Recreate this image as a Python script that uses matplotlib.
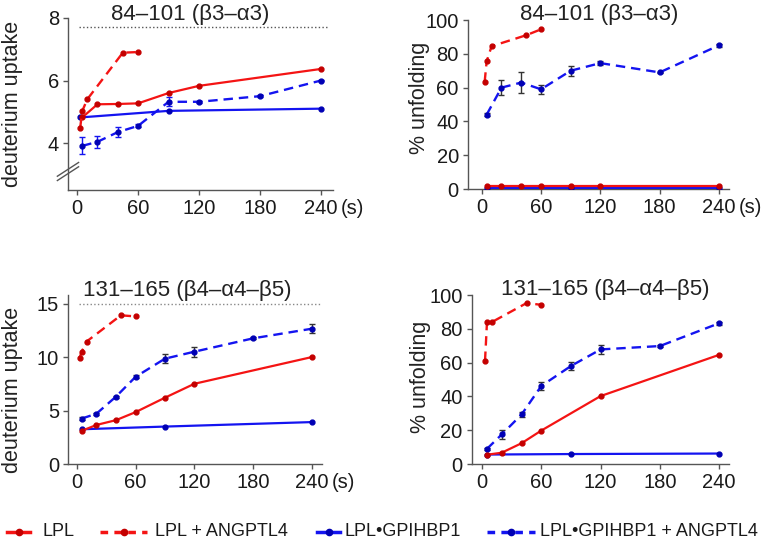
import matplotlib.pyplot as plt
from matplotlib.lines import Line2D

plt.rcParams.update({'font.family': ['Liberation Sans', 'DejaVu Sans'], 'font.size': 14})

RED = '#f41414'
RED_M = '#c40000'
BLUE = '#1414f0'
BLUE_M = '#0000b4'

# --- data: 84-101 (b3-a3), deuterium uptake
tl_lpl_t = [5, 20, 40, 60, 90, 120, 240]
tl_lpl_v = [4.82, 5.24, 5.25, 5.27, 5.6, 5.83, 6.37]
tl_lpla_t = [3, 5, 10, 45, 60]
tl_lpla_v = [4.48, 5.02, 5.40, 6.89, 6.91]
tl_gp_t = [3, 90, 240]
tl_gp_v = [4.82, 5.03, 5.1]
tl_gpa_t = [5, 20, 40, 60, 90, 120, 180, 240]
tl_gpa_v = [3.91, 4.04, 4.35, 4.55, 5.32, 5.32, 5.5, 6.0]
tl_gpa_e = [0.27, 0.2, 0.15, 0.05, 0.15, 0.04, 0.04, 0.03]

# --- 84-101 (b3-a3), % unfolding
tr_lpl_t = [5, 20, 40, 60, 90, 120, 240]
tr_lpl_v = [2.0, 2.0, 2.0, 2.0, 2.0, 2.0, 2.0]
tr_lpla_t = [3, 5, 10, 45, 60]
tr_lpla_v = [63.5, 75.5, 84.5, 91.0, 94.5]
tr_gp_t = [5, 90, 240]
tr_gp_v = [0.8, 0.8, 0.8]
tr_gpa_t = [5, 20, 40, 60, 90, 120, 180, 240]
tr_gpa_v = [44, 60, 63, 59, 70, 74.5, 69, 85]
tr_gpa_e = [1, 4.5, 6, 2.5, 3, 1, 0.5, 0.8]

# --- 131-165 (b4-a4-b5), deuterium uptake
bl_lpl_t = [5, 20, 40, 60, 90, 120, 240]
bl_lpl_v = [3.1, 3.65, 4.1, 4.85, 6.2, 7.5, 10.0]
bl_lpla_t = [3, 5, 10, 45, 60]
bl_lpla_v = [9.95, 10.5, 11.45, 13.9, 13.8]
bl_gp_t = [5, 90, 240]
bl_gp_v = [3.25, 3.5, 3.92]
bl_gpa_t = [5, 20, 40, 60, 90, 120, 180, 240]
bl_gpa_v = [4.25, 4.7, 6.3, 8.15, 9.85, 10.5, 11.75, 12.65]
bl_gpa_e = [0.1, 0.1, 0.1, 0.15, 0.45, 0.45, 0.1, 0.4]

# --- 131-165 (b4-a4-b5), % unfolding
br_lpl_t = [5, 20, 40, 60, 120, 240]
br_lpl_v = [5.5, 6.7, 12.3, 19.8, 40.2, 64.6]
br_lpla_t = [3, 5, 10, 45, 60]
br_lpla_v = [61, 84, 84, 95.2, 94.2]
br_gp_t = [5, 90, 240]
br_gp_v = [5.6, 5.9, 6.2]
br_gpa_t = [5, 20, 40, 60, 90, 120, 180, 240]
br_gpa_v = [9, 17.5, 29.3, 46.2, 58, 67.8, 69.8, 83.3]
br_gpa_e = [0.5, 2.5, 1.5, 2.5, 2.5, 2.5, 0.5, 0.8]

titles = ['84–101 (β3–α3)', '84–101 (β3–α3)', '131–165 (β4–α4–β5)', '131–165 (β4–α4–β5)']
max_uptake = [7.7, 15.0]
xticks = [0, 60, 120, 180, 240]

fig = plt.figure(figsize=(7.62, 5.41), dpi=100)
ax_tl = fig.add_axes([0.0892, 0.6488, 0.348, 0.318])
ax_tr = fig.add_axes([0.614, 0.6506, 0.3425, 0.3124])
ax_bl = fig.add_axes([0.0892, 0.1423, 0.333, 0.3124])
ax_br = fig.add_axes([0.619, 0.1423, 0.3377, 0.3124])

DASH = (4, 2.5)


def draw(ax, lpl, lpla, gp, gpa, err_color):
    ax.errorbar(gpa[0], gpa[1], yerr=gpa[2], color=BLUE, ecolor=err_color, elinewidth=1,
                capsize=2.5, capthick=1, lw=1.7, dashes=DASH, marker='o', ms=3.5,
                mfc=BLUE_M, mec=BLUE_M, zorder=3)
    ax.plot(gp[0], gp[1], color=BLUE, lw=1.6, marker='o', ms=3.5, mfc=BLUE_M, mec=BLUE_M, zorder=3)
    ax.plot(lpl[0], lpl[1], color=RED, lw=1.6, marker='o', ms=3.5, mfc=RED_M, mec=RED_M, zorder=4)
    ax.plot(lpla[0], lpla[1], color=RED, lw=1.7, dashes=DASH, marker='o', ms=3.5,
            mfc=RED_M, mec=RED_M, zorder=4)


draw(ax_tl, (tl_lpl_t, tl_lpl_v), (tl_lpla_t, tl_lpla_v), (tl_gp_t, tl_gp_v),
     (tl_gpa_t, tl_gpa_v, tl_gpa_e), BLUE)
draw(ax_tr, (tr_lpl_t, tr_lpl_v), (tr_lpla_t, tr_lpla_v), (tr_gp_t, tr_gp_v),
     (tr_gpa_t, tr_gpa_v, tr_gpa_e), '#333333')
draw(ax_bl, (bl_lpl_t, bl_lpl_v), (bl_lpla_t, bl_lpla_v), (bl_gp_t, bl_gp_v),
     (bl_gpa_t, bl_gpa_v, bl_gpa_e), '#333333')
draw(ax_br, (br_lpl_t, br_lpl_v), (br_lpla_t, br_lpla_v), (br_gp_t, br_gp_v),
     (br_gpa_t, br_gpa_v, br_gpa_e), '#333333')

# max deuteration lines
ax_tl.hlines(max_uptake[0], 2, 246, colors='#555555', linestyles=':', lw=1)
ax_bl.hlines(max_uptake[1], 2, 248, colors='#888888', linestyles=':', lw=1)

# axis limits and ticks
ax_tl.set_xlim(-9, 252)
ax_tl.set_ylim(2.5, 8)
ax_tl.set_yticks([4, 6, 8])
ax_tr.set_xlim(-14, 250)
ax_tr.set_ylim(0, 100)
ax_tr.set_yticks([0, 20, 40, 60, 80, 100])
ax_bl.set_xlim(-9, 250)
ax_bl.set_ylim(0, 15.8)
ax_bl.set_yticks([0, 5, 10, 15])
ax_br.set_xlim(-10.5, 250)
ax_br.set_ylim(0, 100)
ax_br.set_yticks([0, 20, 40, 60, 80, 100])

for ax in (ax_tl, ax_tr, ax_bl, ax_br):
    ax.set_xticks(xticks)
    for s in ('top', 'right'):
        ax.spines[s].set_visible(False)
    for s in ('left', 'bottom'):
        ax.spines[s].set_color('#555555')
        ax.spines[s].set_linewidth(1)
    ax.tick_params(direction='out', length=3.5, width=1, color='#555555', labelsize=14.5,
                   pad=3, labelcolor='#1a1a1a')

# y labels (label coords set the right edge of the rotated text)
ax_tl.set_ylabel('deuterium uptake', fontsize=15.5, color='#222222')
ax_tl.yaxis.set_label_coords(-0.17, 0.5)
ax_bl.set_ylabel('deuterium uptake', fontsize=15.5, color='#222222')
ax_bl.yaxis.set_label_coords(-0.178, 0.44)
ax_tr.set_ylabel('% unfolding', fontsize=15.5, color='#222222')
ax_tr.yaxis.set_label_coords(-0.146, 0.54)
ax_br.set_ylabel('% unfolding', fontsize=15.5, color='#222222')
ax_br.yaxis.set_label_coords(-0.158, 0.515)

# titles
ax_tl.text(0.46, 0.99, titles[0], transform=ax_tl.transAxes, ha='center', va='baseline', fontsize=16, color='#222222')
ax_tr.text(0.505, 1.0, titles[1], transform=ax_tr.transAxes, ha='center', va='baseline', fontsize=16, color='#222222')
ax_bl.text(0.47, 0.996, titles[2], transform=ax_bl.transAxes, ha='center', va='baseline', fontsize=16, color='#222222')
ax_br.text(0.518, 1.0, titles[3], transform=ax_br.transAxes, ha='center', va='baseline', fontsize=16, color='#222222')

# "(s)" unit label next to the last x tick label
for ax in (ax_tl, ax_tr, ax_bl):
    ax.annotate('(s)', xy=(xticks[-1], 0), xycoords=('data', 'axes fraction'), xytext=(14, -6.5),
                textcoords='offset points', ha='left', va='top', fontsize=14.5, color='#1a1a1a')

# axis break mark on top-left panel
for dy in (-0.025, 0.0):
    ax_tl.plot([-0.04, 0.04], [0.08 + dy, 0.16 + dy], transform=ax_tl.transAxes,
               color='#555555', lw=1, clip_on=False)

# legend drawn manually in figure coordinates
W, H = 762.0, 541.0
ly = 1 - 532 / H
legend_items = [
    (7, 30, 42, RED, RED_M, '-', 'LPL'),
    (100, 147, 155, RED, RED_M, '--', 'LPL + ANGPTL4'),
    (317, 340, 345, BLUE, BLUE_M, '-', 'LPL•GPIHBP1'),
    (487, 535, 540, BLUE, BLUE_M, '--', 'LPL•GPIHBP1 + ANGPTL4'),
]
for x0, x1, xt, c, mc, ls, lab in legend_items:
    line = Line2D([x0 / W, x1 / W], [ly, ly], transform=fig.transFigure, color=c, lw=2.5)
    if ls == '--':
        line.set_dashes((2.2, 1.8))
    fig.add_artist(line)
    fig.add_artist(Line2D([(x0 + x1) / 2 / W], [ly], transform=fig.transFigure, marker='o',
                          ms=4.5, mfc=mc, mec=mc, lw=0))
    fig.text(xt / W, ly, lab, ha='left', va='center', fontsize=13, color='#1a1a1a')

fig.savefig('out.png', dpi=100)
